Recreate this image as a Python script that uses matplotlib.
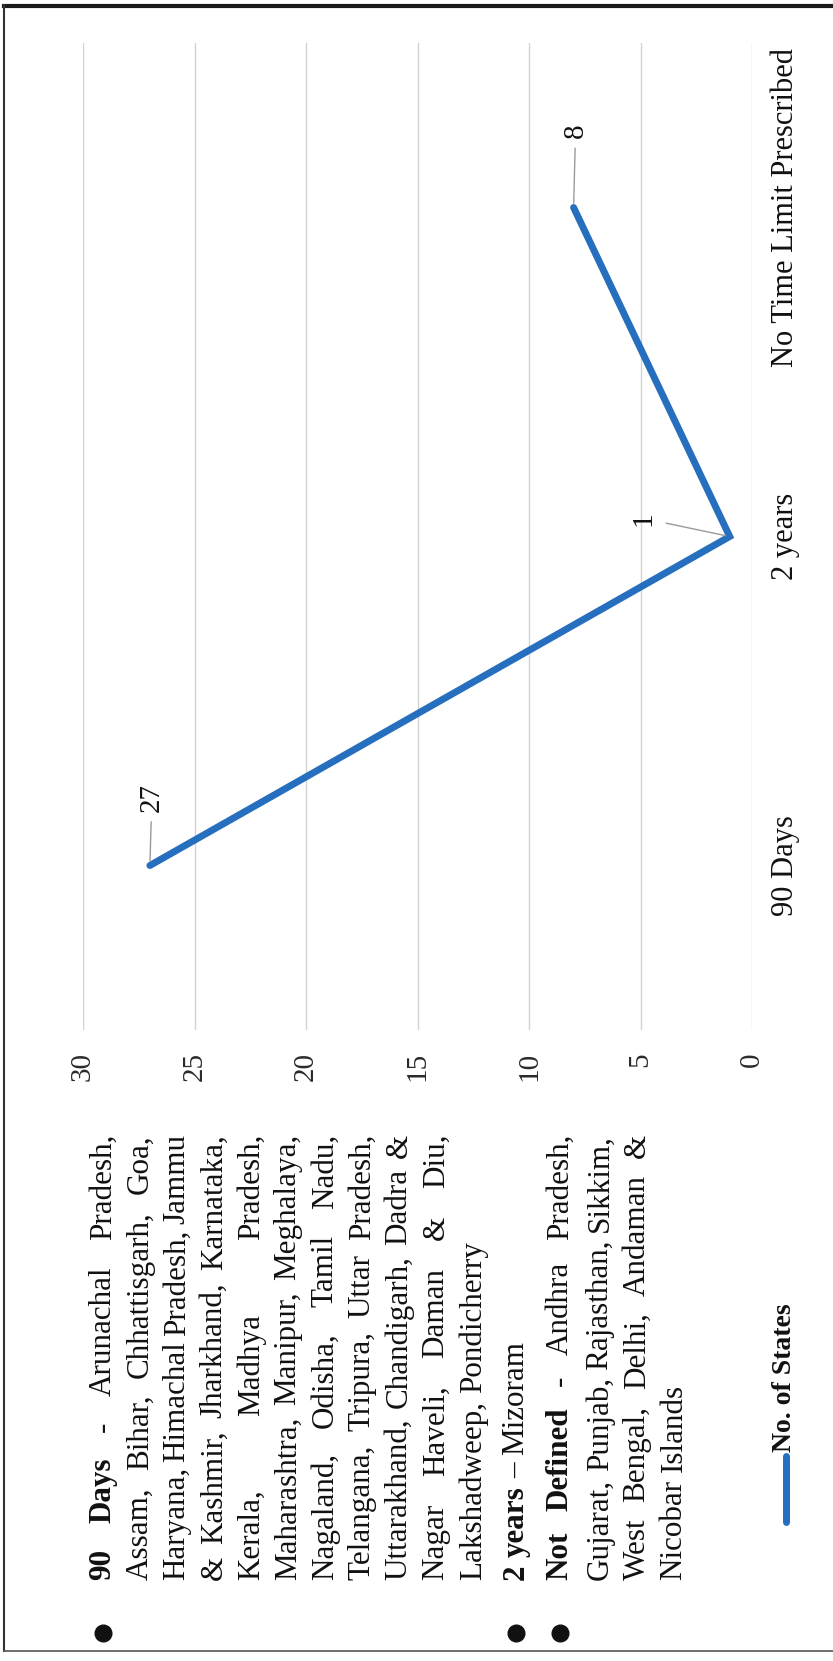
import numpy as np
import matplotlib.pyplot as plt

# figure size in pixels
W, H = 833, 1661
DPI = 100

# chart data
categories = ["90 Days", "2 years", "No Time Limit Prescribed"]
no_of_states = [27, 1, 8]
value_ticks = [0, 5, 10, 15, 20, 25, 30]
series_name = "No. of States"

# bullet text next to the chart, one entry per printed line
text_lines = [
    "90 Days - Arunachal Pradesh,",
    "Assam, Bihar, Chhattisgarh, Goa,",
    "Haryana, Himachal Pradesh, Jammu",
    "& Kashmir, Jharkhand, Karnataka,",
    "Kerala, Madhya Pradesh,",
    "Maharashtra, Manipur, Meghalaya,",
    "Nagaland, Odisha, Tamil Nadu,",
    "Telangana, Tripura, Uttar Pradesh,",
    "Uttarakhand, Chandigarh, Dadra &",
    "Nagar Haveli, Daman & Diu,",
    "Lakshadweep, Pondicherry",
    "2 years \u2013 Mizoram",
    "Not Defined - Andhra Pradesh,",
    "Gujarat, Punjab, Rajasthan, Sikkim,",
    "West Bengal, Delhi, Andaman &",
    "Nicobar Islands",
]
bold_words = [2, 0, 0, 0, 0, 0, 0, 0, 0, 0, 0, 2, 2, 0, 0, 0]
justified = [True] * 10 + [False, False, True, True, True, False]
bullet_lines = [0, 11, 12]

SERIF = "Liberation Serif"
BLUE = "#266ebe"
GRID = "#d2d2d2"
INK = "#111111"

fig = plt.figure(figsize=(W / DPI, H / DPI), dpi=DPI)
fig.patch.set_facecolor("white")

# the chart is printed rotated, so values run right-to-left and categories bottom-to-top
ax = fig.add_axes([83 / W, 1 - 1030 / H, 669 / W, 987 / H])
ypos = np.arange(len(categories))
ax.plot(no_of_states, ypos, color=BLUE, lw=5, solid_capstyle="round",
        solid_joinstyle="miter", zorder=3)
ax.set_xlim(30, 0)
ax.set_ylim(-0.5, len(categories) - 0.5)
ax.set_xticks(value_ticks)
ax.set_xticklabels([str(v) for v in value_ticks], rotation=90,
                   fontsize=21, family=SERIF, color="#2a2a2a")
ax.yaxis.tick_right()
ax.set_yticks(ypos)
ax.set_yticklabels(categories, rotation=90, va="center", fontsize=22,
                   family=SERIF, color=INK)
ax.tick_params(axis="x", length=0, pad=16)
ax.tick_params(axis="y", length=0, pad=14)
ax.grid(axis="x", color=GRID, lw=1)
ax.set_axisbelow(True)
for s in ax.spines.values():
    s.set_visible(False)

# data labels with leader lines
label_offsets = [(1.4, 49), (-62, 13), (1.4, 55)]
for v, y, off in zip(no_of_states, ypos, label_offsets):
    ax.annotate(str(v), xy=(v, y), xytext=off, textcoords="offset points",
                rotation=90, ha="center", va="center", fontsize=21,
                family=SERIF, color=INK,
                arrowprops=dict(arrowstyle="-", color="#9a9a9a", lw=1,
                                shrinkA=5, shrinkB=3))

# overlay in pixel coordinates for the page furniture
ov = fig.add_axes([0, 0, 1, 1], facecolor="none")
ov.set_xlim(0, W)
ov.set_ylim(H, 0)
ov.axis("off")

# page border
ov.plot([4, W], [5.5, 5.5], color="#1a1a1a", lw=3)
ov.plot([4, 4], [5, 1651], color="#333333", lw=1.5)
ov.plot([4, W], [1651, 1651], color="#555555", lw=1.2)

# justified text block
fig.canvas.draw()
renderer = fig.canvas.get_renderer()
body_size = 22.4
y_start, y_end = 1580, 1134
line_x = [103, 140, 177, 214, 251, 288, 325, 362, 399, 436, 473,
          516, 560, 600, 637, 674]


def word_len(word, bold):
    t = ov.text(0, 0, word, fontsize=body_size, family=SERIF,
                weight="bold" if bold else "normal")
    w = t.get_window_extent(renderer).width
    t.remove()
    return w


space = word_len("n n", False) - word_len("nn", False)

for i, line in enumerate(text_lines):
    words = line.split(" ")
    bolds = [k < bold_words[i] for k in range(len(words))]
    widths = [word_len(w, b) for w, b in zip(words, bolds)]
    gap = space
    if justified[i] and len(words) > 1:
        gap = max((y_start - y_end - sum(widths)) / (len(words) - 1), 0.6 * space)
    y = y_start
    for w, b, wl in zip(words, bolds, widths):
        ov.text(line_x[i], y, w, rotation=90, ha="center", va="bottom",
                fontsize=body_size, family=SERIF,
                weight="bold" if b else "normal", color=INK)
        y -= wl + gap
    if i in bullet_lines:
        ov.plot(line_x[i], 1633, "o", color=INK, ms=12)

# legend
ov.plot([786, 786], [1456, 1522], color=BLUE, lw=5, solid_capstyle="round")
ov.text(785, 1452, series_name, rotation=90, ha="center", va="bottom",
        fontsize=20, family=SERIF, weight="bold", color=INK)

fig.savefig("out.png", dpi=DPI)
